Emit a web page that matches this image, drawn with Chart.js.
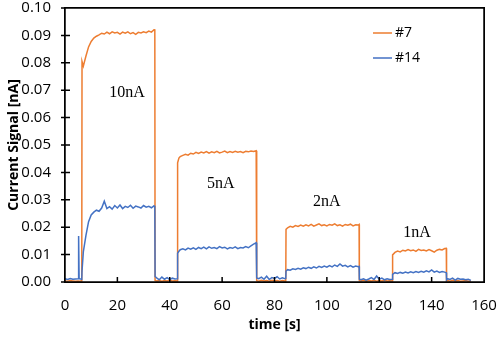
<!DOCTYPE html>
<html>
<head>
<meta charset="utf-8">
<script src="https://cdn.jsdelivr.net/npm/chart.js@4.4.0/dist/chart.umd.min.js"></script>
<style>
  html, body { margin:0; padding:0; background:#fff; }
  #lienzo { position:relative; width:498px; height:337px; }
  #cuadro { position:absolute; border:1.5px solid #000; box-sizing:border-box; pointer-events:none; }
</style>
</head>
<body>
<div id="lienzo">
  <canvas id="grafico" width="498" height="337"></canvas>
  <div id="cuadro"></div>
</div>
<script>
/********************** Datos de la medición ********************************************************************/

// nombres de las series (leyenda)
var nombres = ['#7', '#14'];

// etiquetas de cada escalón de corriente
var etiquetas = ['10nA', '5nA', '2nA', '1nA'];

// tiempo [s] — una muestra por segundo, con puntos extra en los flancos
var tiempo = [
  0,1,2,3,4,5,5.2,5.4,6,6.4,
  6.5,7,8,9,10,11,12,13,14,15,16,17,18,19,20,21,22,23,24,25,26,27,28,29,30,31,32,33,34,34.3,
  34.4,35,36,37,38,39,40,41,42,42.9,
  43,43.5,44,45,46,47,48,49,50,51,52,53,54,55,56,57,58,59,60,61,62,63,64,65,66,67,68,69,70,71,72,73,
  73.2,74,75,76,77,78,79,80,81,82,83,84,84.3,
  84.4,85,86,87,88,89,90,91,92,93,94,95,96,97,98,99,100,101,102,103,104,105,106,107,108,109,110,111,112,112.3,
  112.4,113,114,115,116,117,118,119,120,121,122,123,124,125,
  125.1,126,127,128,129,130,131,132,133,134,135,136,137,138,139,140,141,142,143,144,145,145.6,
  145.7,146,147,148,149,150,151,152,153,154,155
];

// señal de corriente [nA], sensor #7
var senal7 = [
  .0004,.0003,.0005,.0004,.0003,.0004,.0004,.0003,.0004,.0004,
  .0805,.0788,.0825,.0858,.0878,.0890,.0897,.0902,.0908,.0905,.0912,.0906,.0913,.0909,.0911,.0905,.0912,.0908,.0913,.0906,.0910,.0904,.0911,.0909,.0913,.0910,.0916,.0912,.0921,.0922,
  .0006,.0004,.0005,.0003,.0005,.0004,.0006,.0004,.0005,.0004,
  .0435,.0452,.0458,.0462,.0466,.0463,.0470,.0467,.0473,.0469,.0474,.0471,.0476,.0470,.0475,.0472,.0477,.0471,.0474,.0478,.0472,.0476,.0473,.0477,.0474,.0476,.0472,.0477,.0475,.0478,.0476,.0479,
  .0005,.0003,.0006,.0004,.0005,.0003,.0006,.0004,.0005,.0003,.0005,.0004,.0004,
  .0192,.0198,.0203,.0200,.0206,.0203,.0208,.0204,.0209,.0205,.0210,.0204,.0208,.0212,.0206,.0209,.0205,.0210,.0207,.0212,.0206,.0209,.0204,.0210,.0207,.0211,.0205,.0209,.0208,.0210,
  .0005,.0004,.0006,.0003,.0005,.0004,.0006,.0003,.0005,.0004,.0006,.0004,.0005,.0004,
  .0099,.0108,.0113,.0110,.0116,.0113,.0118,.0114,.0117,.0112,.0119,.0115,.0117,.0113,.0118,.0114,.0109,.0116,.0119,.0117,.0122,.0123,
  .0004,.0005,.0003,.0006,.0004,.0005,.0003,.0004,.0005,.0003,.0004
];

// señal de corriente [nA], sensor #14
var senal14 = [
  .0012,.0009,.0013,.0010,.0011,.0012,.0168,.0012,.0011,.0010,
  .0040,.0110,.0170,.0220,.0245,.0255,.0262,.0258,.0270,.0295,.0268,.0275,.0266,.0279,.0270,.0281,.0268,.0276,.0272,.0280,.0269,.0277,.0274,.0270,.0279,.0273,.0276,.0271,.0278,.0275,
  .0020,.0015,.0008,.0018,.0010,.0016,.0009,.0014,.0011,.0012,
  .0105,.0112,.0118,.0121,.0117,.0124,.0120,.0125,.0119,.0126,.0122,.0127,.0121,.0128,.0123,.0126,.0122,.0129,.0124,.0127,.0121,.0126,.0123,.0128,.0122,.0126,.0124,.0129,.0125,.0132,.0138,.0143,
  .0015,.0012,.0018,.0010,.0021,.0009,.0016,.0013,.0019,.0011,.0015,.0012,.0013,
  .0040,.0045,.0043,.0048,.0046,.0050,.0047,.0052,.0049,.0054,.0050,.0055,.0051,.0057,.0053,.0058,.0054,.0060,.0055,.0062,.0057,.0066,.0058,.0061,.0055,.0060,.0054,.0058,.0056,.0057,
  .0010,.0008,.0012,.0007,.0011,.0016,.0009,.0022,.0010,.0014,.0008,.0012,.0009,.0010,
  .0028,.0034,.0031,.0035,.0032,.0036,.0033,.0037,.0034,.0038,.0035,.0039,.0036,.0041,.0037,.0044,.0036,.0040,.0035,.0038,.0036,.0034,
  .0008,.0012,.0009,.0014,.0007,.0013,.0010,.0011,.0008,.0010,.0006
];

var colores = ['#ED7D31', '#4472C4'];

/********************** Gráfico ********************************************************************/

function puntos(serie) {
  return tiempo.map(function (t, i) { return { x: t, y: serie[i] }; });
}

var fuenteEjes = 'Open Sans';

// marcas de los ejes, etiquetas de escalón y leyenda
var marco = {
  id: 'marco',
  afterDraw: function (chart) {
    var ctx = chart.ctx, a = chart.chartArea, sx = chart.scales.x, sy = chart.scales.y;
    ctx.save();
    ctx.strokeStyle = '#000';
    ctx.lineWidth = 1.5;
    ctx.beginPath();
    ctx.rect(a.left, a.top, a.right - a.left, a.bottom - a.top);
    sx.ticks.forEach(function (t) {
      var px = sx.getPixelForValue(t.value);
      ctx.moveTo(px, a.bottom);
      ctx.lineTo(px, a.bottom - 5);
    });
    sy.ticks.forEach(function (t) {
      var py = sy.getPixelForValue(t.value);
      ctx.moveTo(a.left - 4, py);
      ctx.lineTo(a.left + 5, py);
    });
    ctx.stroke();

    // etiquetas de cada escalón (posición en unidades de datos)
    var pos = [[23.7, 0.069], [59.5, 0.0358], [100, 0.0292], [134.4, 0.0179]];
    ctx.fillStyle = '#000';
    ctx.font = '16px "Liberation Serif"';
    ctx.textAlign = 'center';
    ctx.textBaseline = 'middle';
    etiquetas.forEach(function (txt, i) {
      ctx.fillText(txt, sx.getPixelForValue(pos[i][0]), sy.getPixelForValue(pos[i][1]));
    });

    // leyenda
    ctx.font = '14px "' + fuenteEjes + '"';
    ctx.textAlign = 'left';
    nombres.forEach(function (n, i) {
      var yy = a.top + 25 + i * 25;
      ctx.fillStyle = colores[i];
      ctx.fillRect(a.right - 111, yy - 0.75, 19, 1.5);
      ctx.fillStyle = '#000';
      ctx.fillText(n, a.right - 89, yy);
    });
    ctx.restore();
  }
};

var config = {
  type: 'line',
  data: {
    datasets: [{
      label: nombres[0],
      data: puntos(senal7),
      borderColor: colores[0],
      borderWidth: 1.5,
      pointRadius: 0,
      tension: 0,
      order: 2
    }, {
      label: nombres[1],
      data: puntos(senal14),
      borderColor: colores[1],
      borderWidth: 1.5,
      pointRadius: 0,
      tension: 0,
      order: 1
    }]
  },
  options: {
    responsive: false,
    animation: false,
    layout: { padding: { top: 8, right: 14, left: 0, bottom: 0 } },
    plugins: { legend: { display: false }, tooltip: { enabled: false } },
    scales: {
      x: {
        type: 'linear', min: 0, max: 160,
        ticks: { stepSize: 20, padding: 15, maxRotation: 0, color: '#000', font: { family: fuenteEjes, size: 15 } },
        grid: { display: false, drawTicks: false },
        border: { display: false },
        title: { display: true, text: 'time [s]', color: '#000', font: { family: fuenteEjes, size: 14, weight: 'bold' }, padding: { top: 0, bottom: 4 } },
        afterFit: function (s) { s.height = 55; s.paddingLeft = 0; s.paddingRight = 0; }
      },
      y: {
        min: 0, max: 0.1,
        ticks: { stepSize: 0.01, padding: 14, color: '#000', font: { family: fuenteEjes, size: 15 },
          callback: function (v) { return v.toFixed(2); } },
        grid: { display: false, drawTicks: false },
        border: { display: false },
        title: { display: true, text: 'Current Signal [nA]', color: '#000', font: { family: fuenteEjes, size: 14, weight: 'bold' }, padding: { top: 6, bottom: 0 } },
        afterFit: function (s) { s.width = 65; s.paddingTop = 0; s.paddingBottom = 0; }
      }
    }
  },
  plugins: [marco]
};

var chart = new Chart(document.getElementById('grafico').getContext('2d'), config);

// marco del área de trazado también como capa HTML, ajustado al área que calcula Chart.js
var area = chart.chartArea;
var cuadro = document.getElementById('cuadro');
cuadro.style.left = (area.left - 0.75) + 'px';
cuadro.style.top = (area.top - 0.75) + 'px';
cuadro.style.width = (area.right - area.left + 1.5) + 'px';
cuadro.style.height = (area.bottom - area.top + 1.5) + 'px';
</script>
</body>
</html>
